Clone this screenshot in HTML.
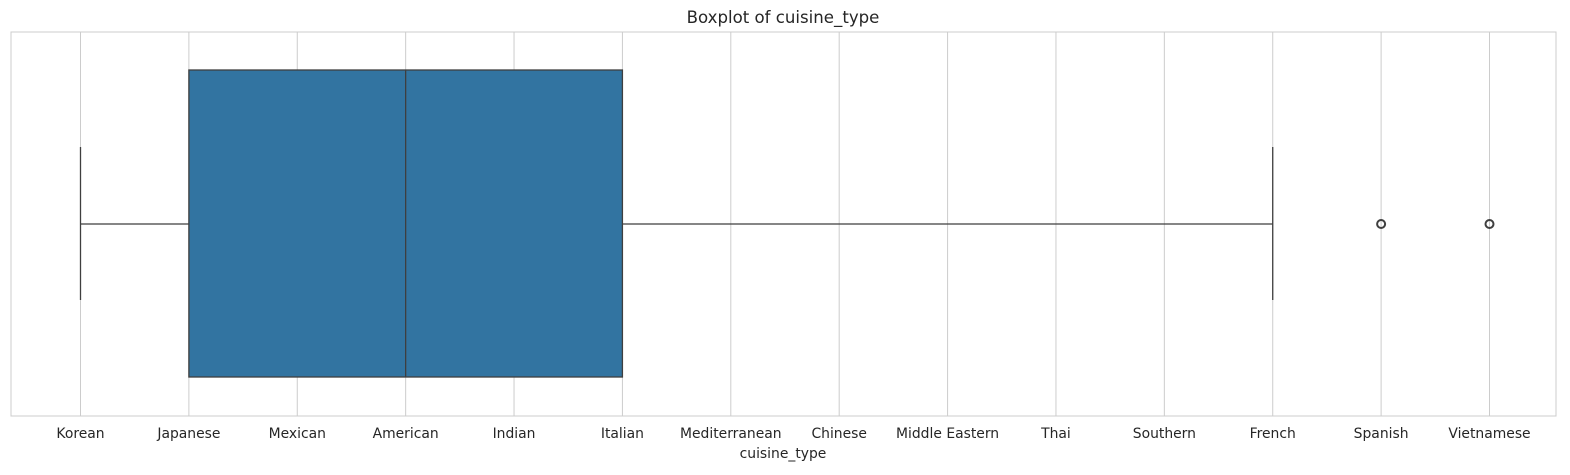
<!DOCTYPE html>
<html><head><meta charset="utf-8"><style>
body{margin:0;background:#fff;}
svg text{font-family:"DejaVu Sans","Liberation Sans",sans-serif;fill:#262626;}
</style></head><body>
<svg id="chart" width="1570" height="470" xmlns="http://www.w3.org/2000/svg">
<text x="783" y="23" font-size="16.6" text-anchor="middle">Boxplot of cuisine_type</text>
<g id="grid"></g>
<rect x="11" y="32" width="1545" height="384" fill="none" stroke="#cccccc" stroke-width="1"/>
<g id="marks"></g>
<g id="ticks"></g>
<text x="783" y="458" font-size="13.9" text-anchor="middle">cuisine_type</text>
</svg>
<script>
const categories=["Korean","Japanese","Mexican","American","Indian","Italian","Mediterranean","Chinese","Middle Eastern","Thai","Southern","French","Spanish","Vietnamese"];
const whiskerLow=[0];
const q1=[1];
const median=[3];
const q3=[5];
const whiskerHigh=[11];
const outliers=[12,13];
const NS="http://www.w3.org/2000/svg";
function x(v){return 80.5+v*(1489.5-80.5)/13;}
const yC=224,boxTop=70,boxBot=377,capTop=147,capBot=300;
function mk(tag,attrs,parent){const e=document.createElementNS(NS,tag);for(const k in attrs)e.setAttribute(k,attrs[k]);parent.appendChild(e);return e;}
const grid=document.getElementById('grid'),marks=document.getElementById('marks'),ticks=document.getElementById('ticks');
categories.forEach((c,i)=>{
  const l=mk('line',{x1:x(i),x2:x(i),y1:32,y2:416,stroke:'#cccccc','stroke-width':1},grid);
  
  
  const t=mk('text',{x:x(i),y:438,'font-size':13.9,'text-anchor':'middle'},ticks);
  t.textContent=c;
  
  
});
const st={stroke:'#3f3f3f','stroke-width':1.3};
let e;
e=mk('line',Object.assign({x1:x(whiskerLow[0]),x2:x(q1[0]),y1:yC,y2:yC},st),marks);


e=mk('line',Object.assign({x1:x(q3[0]),x2:x(whiskerHigh[0]),y1:yC,y2:yC},st),marks);


e=mk('line',Object.assign({x1:x(whiskerLow[0]),x2:x(whiskerLow[0]),y1:capTop,y2:capBot},st),marks);


e=mk('line',Object.assign({x1:x(whiskerHigh[0]),x2:x(whiskerHigh[0]),y1:capTop,y2:capBot},st),marks);


e=mk('rect',Object.assign({x:x(q1[0]),y:boxTop,width:x(q3[0])-x(q1[0]),height:boxBot-boxTop,fill:'#3274a1'},st),marks);


e=mk('line',Object.assign({x1:x(median[0]),x2:x(median[0]),y1:boxTop,y2:boxBot},st),marks);


outliers.forEach(o=>{
  const c=mk('circle',{cx:x(o),cy:yC,r:4,fill:'none',stroke:'#3f3f3f','stroke-width':2},marks);
  
  
});
</script>
</body></html>
